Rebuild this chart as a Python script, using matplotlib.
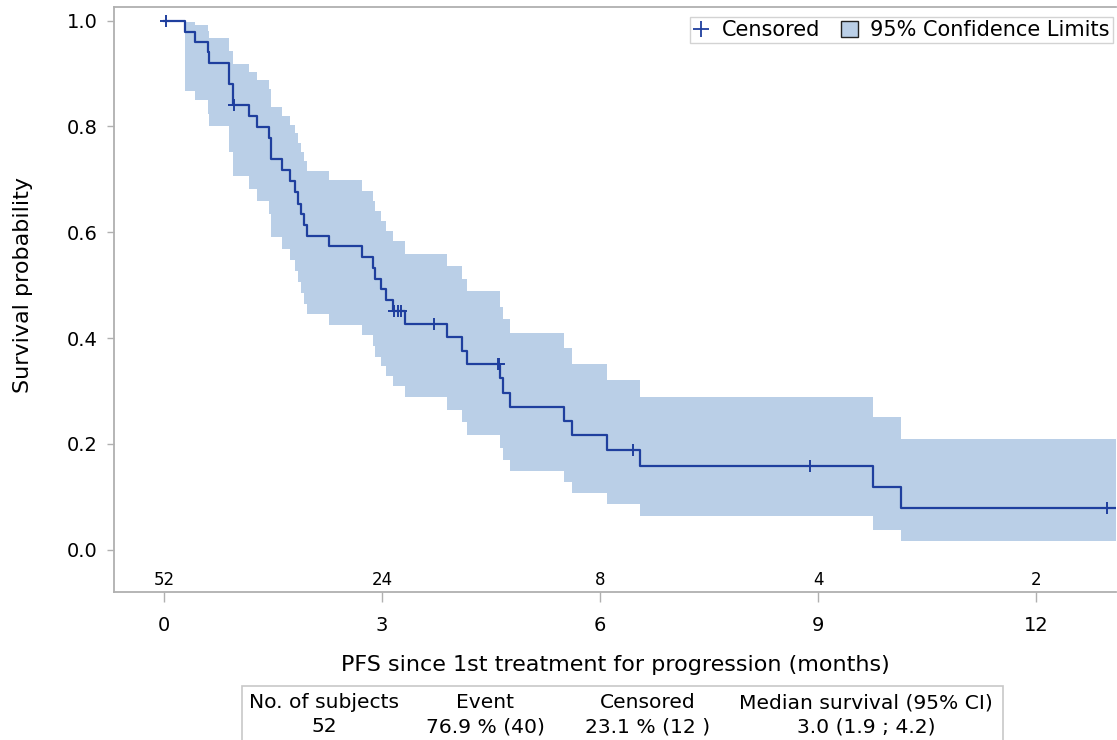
import matplotlib
matplotlib.use("Agg")
import matplotlib.pyplot as plt
import matplotlib.transforms as mtransforms
from matplotlib.lines import Line2D
from matplotlib.patches import Patch, Rectangle

plt.rcParams['font.family'] = ['DejaVu Sans']

# ---- data ----
times = [0, 0.29, 0.42, 0.61, 0.62, 0.89, 0.95, 1.17, 1.28, 1.45, 1.47, 1.63, 1.74,
         1.80, 1.85, 1.88, 1.93, 1.97, 2.27, 2.72, 2.87, 2.90, 2.98, 3.05, 3.15, 3.32,
         3.90, 4.10, 4.17, 4.62, 4.66, 4.76, 5.51, 5.61, 6.10, 6.55, 9.76, 10.14, 13.10]
surv = [1.0, 0.979, 0.960, 0.940, 0.920, 0.880, 0.840, 0.820, 0.799, 0.778, 0.738,
        0.718, 0.696, 0.675, 0.654, 0.634, 0.614, 0.593, 0.573, 0.553, 0.533, 0.512,
        0.492, 0.472, 0.451, 0.426, 0.401, 0.376, 0.351, 0.324, 0.297, 0.270, 0.243,
        0.216, 0.189, 0.158, 0.118, 0.079, 0.079]
upper = [1.0, 0.997, 0.991, 0.980, 0.967, 0.943, 0.918, 0.902, 0.887, 0.871, 0.837,
         0.820, 0.803, 0.787, 0.768, 0.751, 0.734, 0.715, 0.698, 0.677, 0.658, 0.640,
         0.621, 0.602, 0.583, 0.559, 0.536, 0.512, 0.488, 0.459, 0.436, 0.409, 0.382,
         0.351, 0.321, 0.289, 0.250, 0.209, 0.209]
lower = [1.0, 0.866, 0.849, 0.824, 0.800, 0.751, 0.706, 0.682, 0.658, 0.635, 0.590,
         0.568, 0.548, 0.527, 0.505, 0.485, 0.464, 0.446, 0.425, 0.405, 0.384, 0.365,
         0.348, 0.328, 0.309, 0.288, 0.264, 0.241, 0.217, 0.193, 0.170, 0.149, 0.127,
         0.107, 0.086, 0.064, 0.037, 0.016, 0.016]
cens_t = [0.03, 0.96, 3.16, 3.22, 3.26, 3.72, 4.59, 4.61, 6.46, 8.89, 12.98]
cens_s = [1.0, 0.840, 0.451, 0.451, 0.451, 0.426, 0.351, 0.351, 0.189, 0.158, 0.079]
risk_t = [0, 3, 6, 9, 12]
risk_n = [52, 24, 8, 4, 2]
xticks = [0, 3, 6, 9, 12]
yticks = [0.0, 0.2, 0.4, 0.6, 0.8, 1.0]
table_header = ["No. of subjects", "Event", "Censored", "Median survival (95% CI)"]
table_row = ["52", "76.9 % (40)", "23.1 % (12 )", "3.0 (1.9 ; 4.2)"]

line_color = '#1F3F9E'
band_color = '#BACFE7'
frame_color = '#B0B0B0'

W, H = 1117, 740
fig = plt.figure(figsize=(W / 100, H / 100), dpi=100)
ax = fig.add_axes([114 / W, 1 - 592 / H, (1116 - 114) / W, (592 - 7.3) / H])

ax.fill_between(times, lower, upper, step='post', color=band_color, linewidth=0)
ax.step(times, surv, where='post', color=line_color, linewidth=1.6)
ax.plot(cens_t, cens_s, linestyle='none', marker='+', markersize=9,
        markeredgewidth=1.4, color=line_color)

ax.set_xlim(-0.688, 13.10)
ax.set_ylim(-0.080, 1.025)
ax.set_xticks(xticks)
ax.set_xticklabels([str(v) for v in xticks])
ax.set_yticks(yticks)
ax.set_yticklabels([f"{v:.1f}" for v in yticks])

for s in ax.spines.values():
    s.set_color(frame_color)
    s.set_linewidth(1.3)
ax.spines['right'].set_visible(False)

ax.tick_params(axis='x', length=7.5, width=1, color=frame_color, pad=10,
               labelsize=14, labelcolor='black')
ax.tick_params(axis='y', length=5, width=1, color=frame_color, pad=7,
               labelsize=14, labelcolor='black')

ax.set_xlabel("PFS since 1st treatment for progression (months)", fontsize=16,
              labelpad=14)
ax.set_ylabel("Survival probability", fontsize=16)
ax.yaxis.set_label_coords((33 - 114) / 1002, 0.525)

trans = mtransforms.blended_transform_factory(ax.transData, ax.transAxes)
for t, n in zip(risk_t, risk_n):
    ax.text(t, (592 - 580) / (592 - 7.3), str(n), transform=trans, ha='center',
            va='center', fontsize=12)

handles = [Line2D([], [], linestyle='none', marker='+', markersize=11,
                  markeredgewidth=1.3, color=line_color),
           Patch(facecolor=band_color, edgecolor='#222222', linewidth=1.0)]
leg = ax.legend(handles, ["Censored", "95% Confidence Limits"], ncol=2,
                loc='upper right', bbox_to_anchor=(1113 / W, 1 - 17 / H),
                bbox_transform=fig.transFigure, borderaxespad=0, fontsize=15,
                frameon=True, fancybox=False, handlelength=0.8, handleheight=0.8,
                handletextpad=0.6, columnspacing=1.0, borderpad=0.15)
leg.get_frame().set_edgecolor('#C8C8C8')
leg.get_frame().set_linewidth(1.0)

# summary table below the plot
fig.patches.append(Rectangle((242 / W, 1 - 745 / H), (1003 - 242) / W, (745 - 686) / H,
                             transform=fig.transFigure, facecolor='none',
                             edgecolor='#C8C8C8', linewidth=1.2))
col_x = [324, 485, 648, 866]
for cx, h, r in zip(col_x, table_header, table_row):
    fig.text(cx / W, 1 - 703 / H, h, ha='center', va='center', fontsize=14.6)
    fig.text(cx / W, 1 - 727 / H, r, ha='center', va='center', fontsize=14.6)

fig.savefig("out.png", dpi=100)
